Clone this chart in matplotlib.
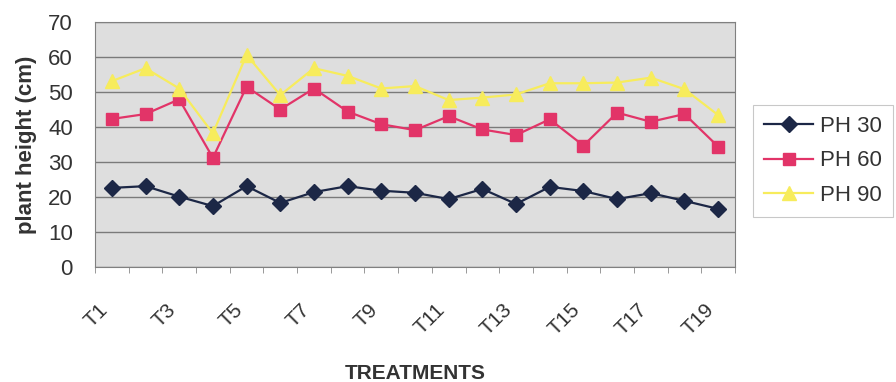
import numpy as np
import matplotlib.pyplot as plt

plt.rcParams['font.family'] = ['Liberation Sans', 'DejaVu Sans']

# treatments T1..T19
treatments = ['T' + str(i) for i in range(1, 20)]
ph30 = [22.6, 23.1, 20.1, 17.4, 23.1, 18.3, 21.4, 23.1, 21.8, 21.2,
        19.4, 22.3, 18.0, 22.9, 21.7, 19.4, 21.1, 18.9, 16.6]
ph60 = [42.3, 43.7, 47.9, 31.2, 51.5, 45.0, 51.0, 44.4, 40.8, 39.1,
        43.1, 39.3, 37.7, 42.2, 34.7, 44.1, 41.5, 43.7, 34.4]
ph90 = [53.1, 56.8, 51.0, 38.2, 60.6, 49.1, 56.8, 54.6, 51.0, 51.7,
        47.7, 48.4, 49.3, 52.5, 52.5, 52.7, 54.1, 50.8, 43.4]
yticks = [0, 10, 20, 30, 40, 50, 60, 70]

fig = plt.figure(figsize=(8.96, 3.82), dpi=100)
ax = fig.add_axes([95/896, 1-267/382, 640/896, 245/382])
ax.set_facecolor('#dedede')

x = np.arange(len(treatments))
ax.plot(x, ph30, color='#1c2746', marker='D', markersize=8, lw=1.6, label='PH 30')
ax.plot(x, ph60, color='#e23468', marker='s', markersize=9, lw=1.6, label='PH 60')
ax.plot(x, ph90, color='#f7ec5c', marker='^', markersize=10, lw=1.6, label='PH 90')

ax.set_xlim(-0.5, len(treatments) - 0.5)
ax.set_ylim(0, 70)
ax.set_yticks(yticks)
ax.yaxis.grid(True, color='#7a7a7a', lw=1)
ax.set_axisbelow(True)

ax.set_xticks(x[::2])
ax.set_xticklabels(treatments[::2], rotation=45, ha='right', va='top')
ax.set_xticks(np.arange(-0.5, len(treatments)), minor=True)
ax.tick_params(axis='x', which='major', length=0, pad=24, labelsize=15)
ax.tick_params(axis='x', which='minor', length=4, color='#888888')
ax.tick_params(axis='y', length=0, pad=16, labelsize=16, colors='#333333')
for lab in ax.get_xticklabels():
    lab.set_color('#333333')
for s in ax.spines.values():
    s.set_color('#808080')

ax.set_ylabel('plant height (cm)', fontsize=16, fontweight='bold', color='#333333', labelpad=8)
ax.set_xlabel('TREATMENTS', fontsize=15, fontweight='bold', color='#333333', labelpad=18)

leg = fig.legend(loc='upper left', bbox_to_anchor=(753/896, 1-105/382), fontsize=16,
                 frameon=True, fancybox=False, edgecolor='#bbbbbb', handlelength=2.2,
                 labelspacing=0.6, borderpad=0.5, handletextpad=0.3, borderaxespad=0)
leg.get_frame().set_linewidth(0.8)
for t in leg.get_texts():
    t.set_color('#333333')

fig.savefig('out.png', dpi=100)
